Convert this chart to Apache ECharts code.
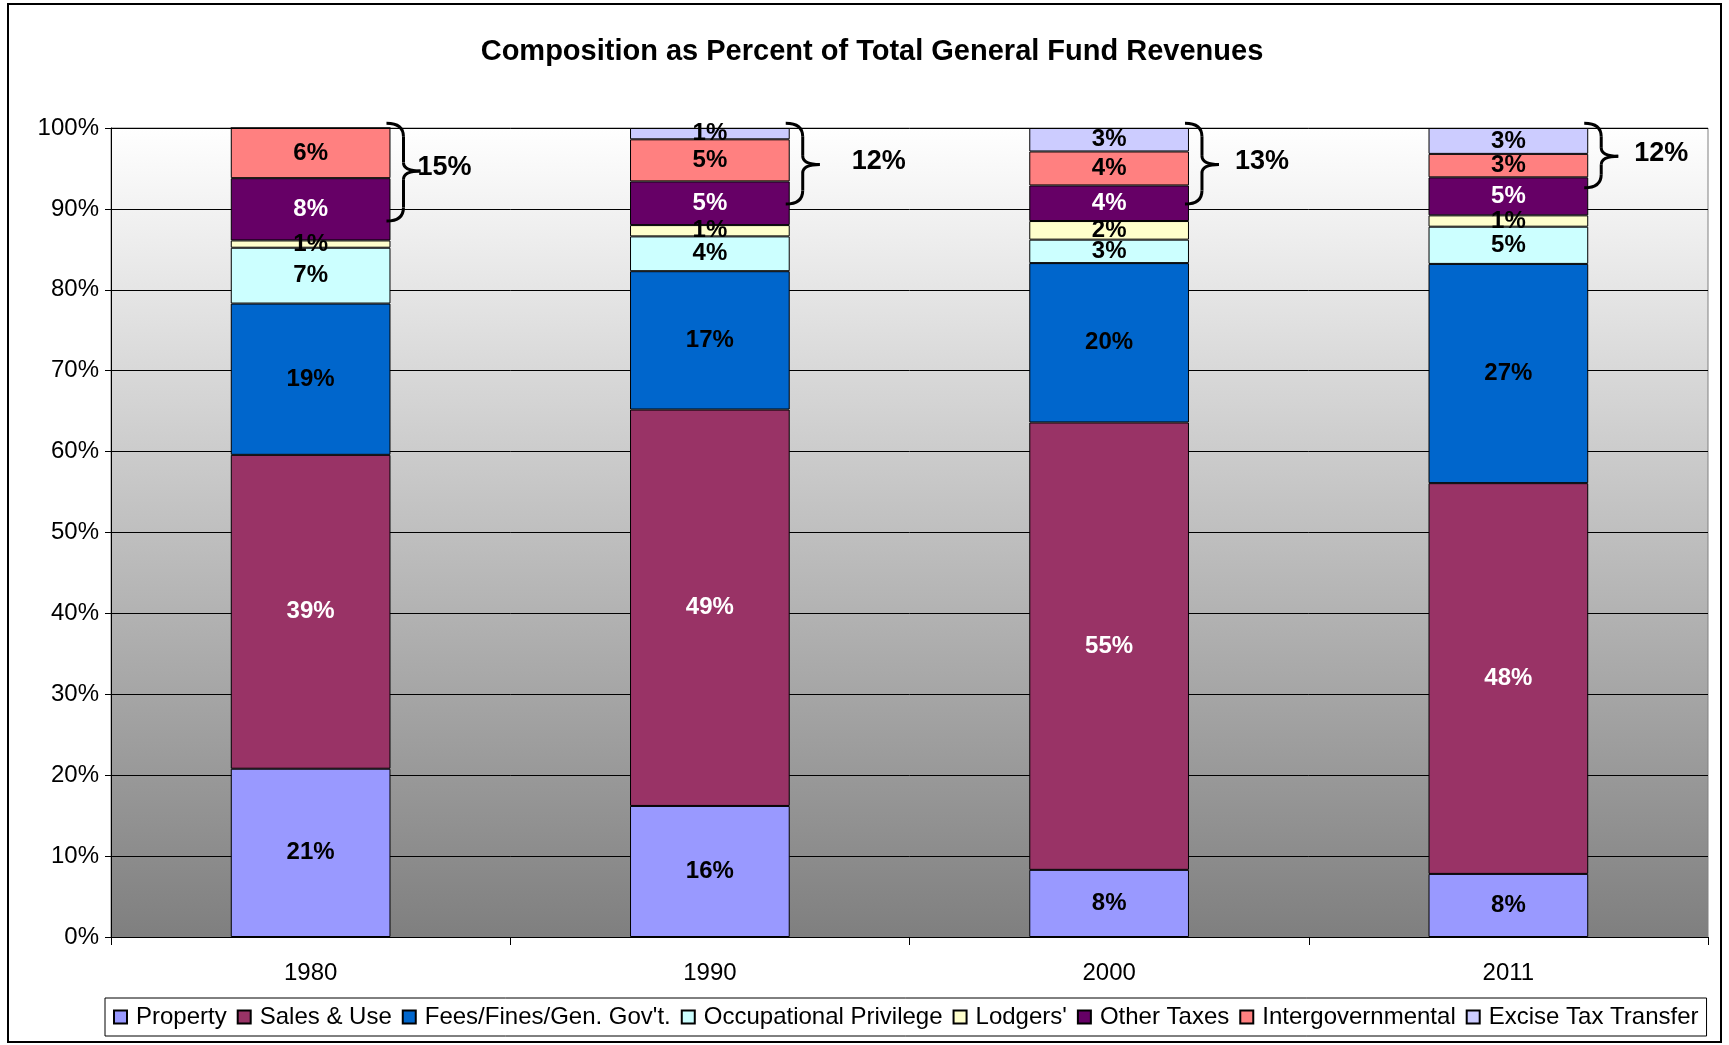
<!DOCTYPE html>
<html>
<head>
<meta charset="utf-8">
<script src="https://cdn.jsdelivr.net/npm/echarts@6/dist/echarts.min.js"></script>
<style>
  html, body { margin: 0; padding: 0; background: #fff; }
  #chart { width: 1729px; height: 1045px; }
</style>
</head>
<body>
<div id="chart"></div>
<script>
// values, percent of total
var years = ['1980', '1990', '2000', '2011']
var property = [20.8, 16.2, 8.3, 7.8]
var salesUse = [38.8, 49.0, 55.3, 48.3]
var fees = [18.7, 17.1, 19.7, 27.1]
var occupational = [6.9, 4.3, 2.9, 4.6]
var lodgers = [0.9, 1.4, 2.3, 1.4]
var otherTaxes = [7.7, 5.4, 4.4, 4.7]
var intergov = [6.2, 5.2, 4.2, 2.9]
var excise = [0, 1.4, 2.9, 3.2]
var yTicks = [0, 10, 20, 30, 40, 50, 60, 70, 80, 90, 100]

// braces to the right of each bar: top, bottom, tip (in %) and the text
var braceTop = [100.6, 100.6, 100.6, 100.6]
var braceBottom = [88.5, 90.6, 90.6, 92.6]
var braceTip = [94.7, 95.5, 95.5, 96.5]
var braceLabels = ['15%', '12%', '13%', '12%']

var FONT = 'Liberation Sans, Arial, sans-serif'
var braceGap = [-3, 32, 16, 16]

function mkBar(name, data, color, labelColor) {
  return {
    name: name,
    type: 'bar',
    stack: 'total',
    barWidth: '40%',
    data: data,
    itemStyle: { color: color, borderColor: '#000', borderWidth: 1 },
    label: {
      show: true,
      position: 'inside',
      color: labelColor,
      fontFamily: FONT,
      fontWeight: 'bold',
      fontSize: 24,
      formatter: function (p) { return p.value > 0 ? Math.round(p.value) + '%' : '' }
    },
    emphasis: { disabled: true }
  }
}

var braceData = years.map(function (y, i) {
  return [i, braceTop[i], braceBottom[i], braceTip[i], braceLabels[i]]
})

var myChart = echarts.init(document.getElementById('chart'))
myChart.setOption({
  backgroundColor: '#fff',
  animation: false,
  title: {
    text: 'Composition as Percent of Total General Fund Revenues',
    left: 867,
    top: 32,
    textAlign: 'center',
    textStyle: { fontFamily: FONT, fontWeight: 'bold', fontSize: 29, color: '#000' }
  },
  graphic: [{
    type: 'rect',
    shape: { x: 8, y: 4, width: 1713, height: 1038 },
    style: { fill: 'none', stroke: '#000', lineWidth: 2 },
    z: 100
  }],
  legend: {
    data: ['Property', 'Sales & Use', "Fees/Fines/Gen. Gov't.", 'Occupational Privilege', "Lodgers'", 'Other Taxes', 'Intergovernmental', 'Excise Tax Transfer'],
    left: 105,
    bottom: 9,
    itemWidth: 13,
    itemHeight: 13,
    itemGap: 10,
    icon: 'rect',
    borderColor: '#000',
    borderWidth: 1,
    padding: [7, 8],
    textStyle: { fontFamily: FONT, fontSize: 24, color: '#000', padding: [0, 0, 0, 4] }
  },
  grid: {
    left: 111,
    right: 21,
    top: 128,
    bottom: 108,
    show: true,
    borderColor: '#808080',
    borderWidth: 1,
    backgroundColor: {
      type: 'linear', x: 0, y: 0, x2: 0, y2: 1,
      colorStops: [{ offset: 0, color: '#ffffff' }, { offset: 1, color: '#7f7f7f' }]
    }
  },
  xAxis: {
    type: 'category',
    data: years,
    axisLine: { lineStyle: { color: '#000', width: 1 } },
    axisTick: { show: true, length: 8, lineStyle: { color: '#000' } },
    axisLabel: { color: '#000', fontFamily: FONT, fontSize: 24, margin: 24 }
  },
  yAxis: {
    type: 'value',
    min: yTicks[0],
    max: yTicks[yTicks.length - 1],
    interval: 10,
    axisLine: { show: true, lineStyle: { color: '#000' } },
    axisTick: { show: true, length: 6, lineStyle: { color: '#000' } },
    axisLabel: { color: '#000', fontFamily: FONT, fontSize: 24, margin: 12, formatter: '{value}%' },
    splitLine: { lineStyle: { color: '#000', width: 1 } }
  },
  series: [
    mkBar('Property', property, '#9999FF', '#000'),
    mkBar('Sales & Use', salesUse, '#993366', '#fff'),
    mkBar("Fees/Fines/Gen. Gov't.", fees, '#0066CC', '#000'),
    mkBar('Occupational Privilege', occupational, '#CCFFFF', '#000'),
    mkBar("Lodgers'", lodgers, '#FFFFCC', '#000'),
    mkBar('Other Taxes', otherTaxes, '#660066', '#fff'),
    mkBar('Intergovernmental', intergov, '#FF8080', '#000'),
    mkBar('Excise Tax Transfer', excise, '#CCCCFF', '#000'),
    {
      type: 'custom',
      data: braceData,
      encode: { x: 0, y: [1, 2, 3] },
      z: 10,
      silent: true,
      renderItem: function (params, api) {
        var i = api.value(0)
        var top = api.coord([i, api.value(1)])
        var bot = api.coord([i, api.value(2)])
        var tip = api.coord([i, api.value(3)])
        var band = api.size([1, 0])[0]
        var x0 = top[0] + band * 0.2 - 4
        var w = 34, r = w / 2
        var yT = top[1], yB = bot[1], yM = tip[1]
        var st = { stroke: '#000', lineWidth: 3, fill: 'none' }
        return {
          type: 'group',
          children: [
            { type: 'bezierCurve', shape: { x1: x0, y1: yT, cpx1: x0 + r, cpy1: yT, x2: x0 + r, y2: yT + r * 0.8 }, style: st },
            { type: 'line', shape: { x1: x0 + r, y1: yT + r * 0.8, x2: x0 + r, y2: yM - r * 0.5 }, style: st },
            { type: 'bezierCurve', shape: { x1: x0 + r, y1: yM - r * 0.5, cpx1: x0 + r, cpy1: yM, x2: x0 + w, y2: yM }, style: st },
            { type: 'bezierCurve', shape: { x1: x0 + w, y1: yM, cpx1: x0 + r, cpy1: yM, x2: x0 + r, y2: yM + r * 0.5 }, style: st },
            { type: 'line', shape: { x1: x0 + r, y1: yM + r * 0.5, x2: x0 + r, y2: yB - r * 0.8 }, style: st },
            { type: 'bezierCurve', shape: { x1: x0 + r, y1: yB - r * 0.8, cpx1: x0 + r, cpy1: yB, x2: x0, y2: yB }, style: st },
            {
              type: 'text',
              style: {
                x: x0 + w + braceGap[i], y: yM - 3,
                text: api.value(4),
                fill: '#000',
                font: 'bold 27px ' + FONT,
                verticalAlign: 'middle',
                align: 'left'
              }
            }
          ]
        }
      }
    }
  ]
})
</script>
</body>
</html>
